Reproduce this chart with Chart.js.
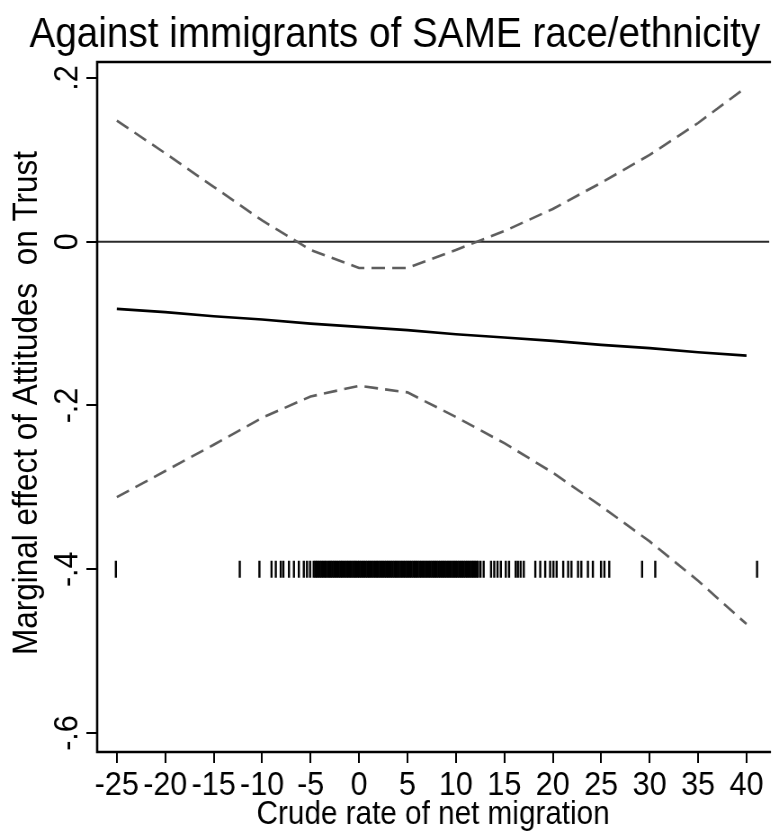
<!DOCTYPE html>
<html>
<head>
<meta charset="utf-8">
<script src="https://cdn.jsdelivr.net/npm/chart.js@4.4.1/dist/chart.umd.min.js"></script>
<style>
  html, body { margin: 0; padding: 0; background: #fff; overflow: hidden; }
  /* graph is drawn wide and squeezed horizontally to get the narrow lettering */
  #wrap { width: 866px; height: 833px; transform: scaleX(0.8995); transform-origin: 0 0; }
</style>
</head>
<body>
<div id="wrap"><canvas id="myChart" width="866" height="833"></canvas></div>
<script>
// margins evaluated at these values of net migration
const migration = [-25, -20, -15, -10, -5, 0, 5, 10, 15, 20, 25, 30, 35, 40];
const effect = [-0.082, -0.086, -0.091, -0.095, -0.100, -0.104, -0.108, -0.113, -0.117, -0.121, -0.126, -0.130, -0.135, -0.139];
const upper95 = [0.148, 0.108, 0.067, 0.026, -0.010, -0.032, -0.032, -0.010, 0.013, 0.040, 0.072, 0.106, 0.145, 0.189];
const lower95 = [-0.312, -0.280, -0.248, -0.215, -0.189, -0.176, -0.184, -0.214, -0.246, -0.282, -0.323, -0.366, -0.414, -0.467];

// observed net migration rates (rug)
const observed = [
  -25.1, -12.31, -10.28,
  -9.03, -8.59, -8.08, -7.81, -7.23, -6.72, -6.21, -5.70, -5.37, -5.05,
  -4.68, -4.51, -4.37, -4.2, -4.04, -3.88, -3.72, -3.55, -3.4, -3.23, -3.06, -2.91, -2.74, -2.58,
  -2.42, -2.25, -2.08, -1.92, -1.77, -1.6, -1.43, -1.27, -1.11, -0.94, -0.78, -0.61, -0.45, -0.3,
  -0.12, 0.04, 0.2, 0.37, 0.53, 0.7, 0.86, 1.02, 1.18, 1.35, 1.51, 1.68, 1.84, 2.0, 2.16, 2.33,
  2.49, 2.66, 2.82, 2.98, 3.14, 3.31, 3.47, 3.64, 3.8, 3.96, 4.12, 4.29, 4.45, 4.62, 4.78, 4.94,
  5.1, 5.27, 5.43, 5.6, 5.76, 5.92, 6.08, 6.25, 6.41, 6.58, 6.74, 6.9, 7.06, 7.23, 7.39, 7.56,
  7.72, 7.88, 8.04, 8.21, 8.37, 8.54, 8.7, 8.86, 9.02, 9.19, 9.35, 9.52, 9.68, 9.84, 10.0, 10.17,
  10.33, 10.5, 10.66, 10.82, 10.98, 11.15, 11.31, 11.48, 11.64, 11.8, 11.96, 12.13, 12.28,
  12.54, 12.87, 13.63, 13.96, 14.30, 14.64, 15.15, 15.49, 16.17, 16.40, 16.68, 17.01,
  18.20, 18.71, 19.22, 19.73, 20.07, 20.40, 21.08, 21.59, 21.93, 22.61, 22.95, 23.63,
  24.14, 24.98, 25.33, 25.83, 29.22, 30.58, 41.09
];
const rugLevel = -0.4;

const xTicks = { min: -27.03, max: 42.34, step: 5 };
const yTicks = { min: -0.6232, max: 0.2195, step: 0.2 };
const yTitle = 'Marginal effect of Attitudes  on Trust';

const SQUEEZE = 0.8995;
const FONT = '"Liberation Sans", Arial, Helvetica, sans-serif';
Chart.defaults.font.family = FONT;
Chart.defaults.color = '#000';

const fmt = v => {
  const r = Math.round(v * 10) / 10;
  if (r === 0) return '0';
  return r.toFixed(1).replace('0.', '.');
};

const pts = vals => migration.map((x, i) => ({ x: x, y: vals[i] }));

// vertical text, condensed along its own length like the horizontal text
function drawUp(ctx, text, x, y, size) {
  ctx.save();
  ctx.translate(x, y);
  ctx.rotate(-Math.PI / 2);
  ctx.scale(SQUEEZE, 1 / SQUEEZE);
  ctx.font = size + 'px ' + FONT;
  ctx.fillStyle = '#000';
  ctx.textAlign = 'center';
  ctx.textBaseline = 'middle';
  ctx.fillText(text, 0, 0);
  ctx.restore();
}

// zero reference line, plot box and the vertical y labels
const frame = {
  id: 'frame',
  beforeDatasetsDraw(chart) {
    const { ctx, chartArea: a, scales: { y } } = chart;
    const y0 = y.getPixelForValue(0);
    ctx.save();
    ctx.strokeStyle = '#2a2a2a';
    ctx.lineWidth = 2.2;
    ctx.beginPath();
    ctx.moveTo(a.left, y0);
    ctx.lineTo(a.right, y0);
    ctx.stroke();
    ctx.restore();
  },
  afterDraw(chart) {
    const { ctx, chartArea: a, scales: { y } } = chart;
    ctx.save();
    ctx.strokeStyle = '#000';
    ctx.lineWidth = 2.6;
    ctx.beginPath();
    ctx.moveTo(a.right + 2, a.top);
    ctx.lineTo(a.left, a.top);
    ctx.lineTo(a.left, a.bottom);
    ctx.lineTo(a.right + 2, a.bottom);
    ctx.stroke();
    ctx.restore();

    y.ticks.forEach(t => drawUp(ctx, fmt(t.value), 75.6, y.getPixelForValue(t.value), 34));
    drawUp(ctx, yTitle, 30.5, (a.top + a.bottom) / 2 - 4, 35);
  }
};

const ctx = document.getElementById('myChart').getContext('2d');
const chart = new Chart(ctx, {
  type: 'scatter',
  data: {
    datasets: [
      {
        label: 'upper',
        data: pts(upper95),
        showLine: true,
        borderColor: '#5e5e5e',
        borderWidth: 2.6,
        borderDash: [15, 8],
        pointRadius: 0
      },
      {
        label: 'lower',
        data: pts(lower95),
        showLine: true,
        borderColor: '#5e5e5e',
        borderWidth: 2.6,
        borderDash: [15, 8],
        pointRadius: 0
      },
      {
        label: 'effect',
        data: pts(effect),
        showLine: true,
        borderColor: '#000',
        borderWidth: 2.7,
        pointRadius: 0
      },
      {
        label: 'rug',
        data: observed.map(v => ({ x: v, y: rugLevel })),
        showLine: false,
        pointStyle: 'line',
        rotation: 90,
        pointRadius: 8.5,
        borderColor: '#000',
        borderWidth: 2.4
      }
    ]
  },
  options: {
    responsive: false,
    animation: false,
    devicePixelRatio: 1,
    events: [],
    layout: { padding: { left: 12, right: 0, top: 0, bottom: 0 } },
    plugins: {
      legend: { display: false },
      tooltip: { enabled: false },
      title: {
        display: true,
        text: 'Against immigrants of SAME race/ethnicity',
        color: '#000',
        font: { size: 43, weight: 'normal', lineHeight: 1.2 },
        padding: { top: 9, bottom: 1.4 }
      }
    },
    scales: {
      x: {
        type: 'linear',
        min: xTicks.min,
        max: xTicks.max,
        afterFit: s => { s.height = 81; },
        border: { display: false },
        grid: { drawOnChartArea: false, drawTicks: true, tickLength: 11, color: '#000', lineWidth: 2 },
        ticks: {
          stepSize: xTicks.step,
          includeBounds: false,
          maxRotation: 0,
          autoSkip: false,
          padding: 2,
          color: '#000',
          font: { size: 34, lineHeight: 1.2 },
          callback: v => String(v)
        },
        title: {
          display: true,
          text: 'Crude rate of net migration',
          color: '#000',
          font: { size: 33, lineHeight: 1.0 },
          padding: { top: 0, bottom: 1.5 }
        }
      },
      y: {
        type: 'linear',
        min: yTicks.min,
        max: yTicks.max,
        afterFit: s => { s.width = 96; },
        border: { display: false },
        grid: { drawOnChartArea: false, drawTicks: true, tickLength: 12, color: '#000', lineWidth: 2 },
        ticks: {
          stepSize: yTicks.step,
          includeBounds: false,
          display: false
        },
        title: { display: false }
      }
    }
  },
  plugins: [frame]
});
</script>
</body>
</html>
